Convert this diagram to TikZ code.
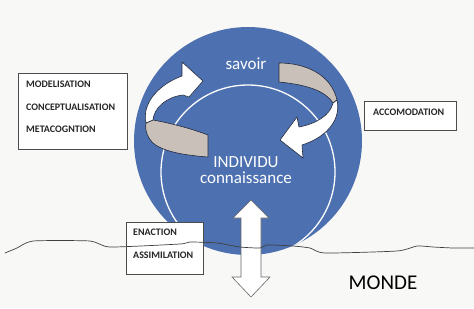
\documentclass[tikz,border=0pt]{standalone}
\usepackage{fontspec}
\setmainfont{Carlito}
\usetikzlibrary{positioning}

\definecolor{globe}{RGB}{76,112,176}
\definecolor{band}{RGB}{201,193,185}
\definecolor{edge}{RGB}{34,40,58}
\definecolor{paper}{RGB}{248,248,246}

\begin{document}
\begin{tikzpicture}[x=1pt, y=-1pt,
  frame/.style={rectangle, draw=black!70, line width=0.6pt, fill=white, inner sep=0pt},
  word/.style={font=\bfseries\fontsize{10}{12}\selectfont, text=black!85, inner sep=0pt, anchor=west},
  inside/.style={font=\fontsize{17}{19}\selectfont, text=white, inner sep=0pt},
  twist/.style={draw=edge, line width=0.6pt, line join=round},
  ground/.style={draw=black!75, line width=0.7pt}
]

% Page
\fill[paper] (0,0) rectangle (474,308);
\useasboundingbox (0,0) rectangle (474,308);

% Knowledge sphere
\node[circle, fill=globe, minimum size=228pt, inner sep=0pt] (globe) at (248,141) {};
\begin{scope}
  \clip (248,141) circle[radius=114];
  \draw[white, line width=1.3pt] (248,172) circle[radius=87];
\end{scope}

% Left turning arrow
\filldraw[twist, fill=band] (153,120) .. controls (175,124) and (195,130) .. (208,135)
  -- (208,157) .. controls (180,155) and (155,150) .. (149,138)
  .. controls (146,133) and (145,128) .. (146,123) -- cycle;
\filldraw[twist, fill=white] (146,123) .. controls (142,106) and (155,86) .. (182,76)
  -- (182,62) -- (203,81) -- (189,97) -- (183,95)
  .. controls (166,97) and (154,108) .. (153,120) -- cycle;

% Right turning arrow
\filldraw[twist, fill=band] (279,63) .. controls (305,63) and (331,74) .. (337,100)
  -- (333,103) .. controls (326,92) and (310,85) .. (279,82) -- cycle;
\filldraw[twist, fill=white] (337,100) .. controls (341,117) and (330,136) .. (302,145)
  -- (303,158) -- (280,140) -- (297,117) -- (299,127)
  .. controls (315,124) and (330,116) .. (333,103) -- cycle;

% Texts in the sphere
\node[inside] (savoir)   at (246,64)  {savoir};
\node[inside] (individu) at (246,162) {INDIVIDU};
\node[inside, below=4pt of individu] (connaissance) {connaissance};

% Boxes
\node[frame, minimum width=109pt, minimum height=76pt] (reflexbox) at (72.5,111) {};
\node[word] (model)   at (26,84)  {MODELISATION};
\node[word] (concept) at (26,107) {CONCEPTUALISATION};
\node[word] (meta)    at (26,129) {METACOGNTION};

\node[frame, minimum width=92pt, minimum height=29pt] (accobox) at (410,115.5) {};
\node[word] (acco) at (373,112) {ACCOMODATION};

\node[frame, minimum width=77pt, minimum height=52pt] (actbox) at (164.5,248) {};
\node[word] (enact)  at (133,232) {ENACTION};
\node[word] (assim)  at (133,255) {ASSIMILATION};

% World
\node[font=\fontsize{21}{24}\selectfont] (monde) at (383,283) {MONDE};

% Exchange arrow
\coordinate (up)   at (251,200);
\coordinate (down) at (251,297);
\filldraw[draw=black!60, line width=0.6pt, fill=white] (up) -- ++(18,18) -- ++(-8,0)
  -- (261,277) -- ++(9,0) -- (down) -- ++(-19,-20) -- ++(9,0)
  -- (241,218) -- ++(-8,0) -- cycle;

% Horizon
\draw[ground] plot[smooth, tension=0.35] coordinates {(5,253) (17,248) (33,241) (90,241)
  (110,247) (180,244) (190,242) (217,243) (240,247) (260,248) (267,245) (293,246)
  (310,248) (325,253) (397,251) (417,246) (433,247) (453,248) (474,248)};

\end{tikzpicture}
\end{document}
